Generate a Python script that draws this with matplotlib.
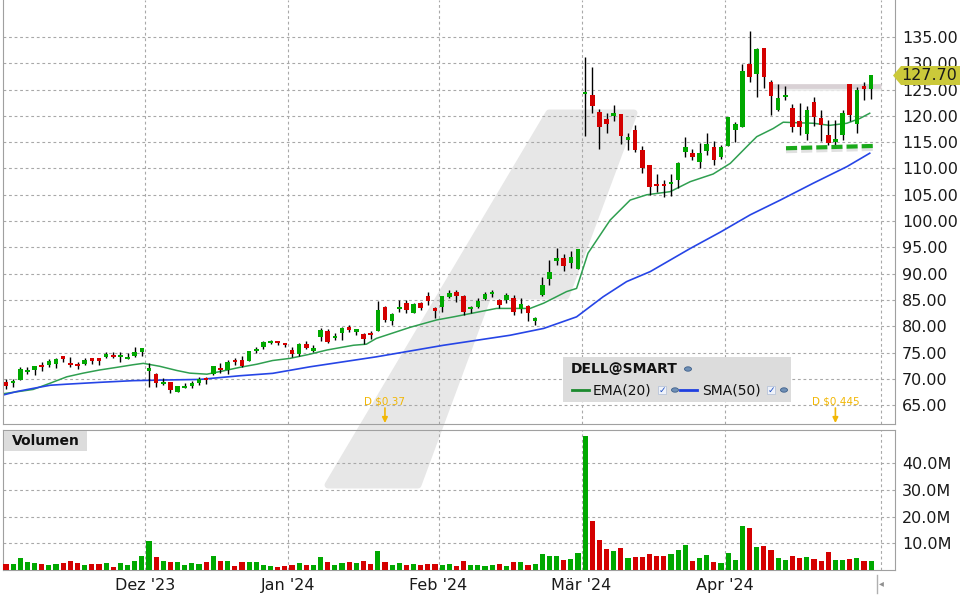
import matplotlib
matplotlib.use("Agg")
import matplotlib.pyplot as plt
from matplotlib.patches import Polygon, Rectangle, Circle
import numpy as np

# ---- daily candles, Nov 2 2023 .. Apr 29 2024 (index = trading day) ----
opens = [69.4, 69.2, 69.8, 71.3, 71.7, 72.7, 72.6, 72.8, 74.4, 73.0,
         72.9, 72.9, 73.8, 73.8, 74.2, 74.5, 74.1, 73.7, 74.4, 75.1,
         71.6, 71.0, 69.0, 69.5, 67.6, 68.3, 68.6, 69.2, 70.0, 70.9,
         72.1, 71.7, 73.6, 73.6, 73.5, 75.3, 76.1, 76.9, 77.1, 76.9,
         75.5, 74.7, 76.6, 75.4, 78.0, 79.1, 77.8, 78.8, 79.9, 79.0,
         78.6, 78.8, 79.2, 83.7, 81.1, 83.35, 84.4, 82.6, 84.5, 85.8,
         83.3, 83.7, 85.6, 86.5, 85.8, 83.35, 83.7, 85.2, 86.2, 85.0,
         85.0, 85.4, 83.2, 83.9, 81.1, 86.0, 89.05, 92.5, 93.0, 92.0,
         90.9, 124.2, 124.0, 120.7, 119.4, 120.05, 120.4, 115.5, 117.3, 113.6,
         110.7, 107.05, 107.05, 107.1, 107.9, 113.2, 113.0, 111.3, 113.3, 114.15,
         112.25, 114.3, 117.4, 117.8, 129.9, 128.0, 132.97, 126.4, 121.1, 123.65,
         121.5, 119.1, 116.6, 122.6, 119.6, 116.4, 115.1, 116.4, 126.1, 118.4,
         125.7, 125.1]
highs = [69.9, 70.0, 72.3, 72.3, 72.5, 73.2, 73.8, 74.0, 74.4, 74.2,
         73.2, 74.0, 74.0, 74.0, 75.2, 75.1, 75.1, 74.9, 76.1, 75.8,
         73.0, 71.2, 70.2, 69.5, 68.6, 69.2, 69.6, 70.4, 70.4, 72.5,
         73.1, 73.6, 74.0, 74.4, 75.4, 76.1, 77.3, 77.4, 77.3, 76.9,
         76.1, 76.8, 77.2, 76.4, 79.7, 79.5, 78.8, 79.9, 80.2, 79.4,
         78.8, 79.2, 84.8, 83.9, 82.6, 85.0, 85.0, 84.5, 84.7, 86.5,
         83.7, 85.8, 86.9, 86.9, 86.0, 83.9, 85.3, 86.6, 86.9, 85.1,
         86.3, 86.0, 85.3, 84.1, 81.8, 89.3, 92.6, 94.95, 93.7, 94.3,
         94.7, 131.1, 129.2, 121.4, 120.5, 122.1, 120.4, 116.8, 118.3, 114.3,
         110.7, 109.0, 107.8, 109.0, 111.2, 115.9, 113.65, 114.8, 116.8, 115.3,
         114.5, 119.85, 118.9, 129.8, 136.1, 132.9, 133.0, 126.8, 126.1, 125.7,
         122.2, 122.5, 121.8, 123.6, 121.1, 119.2, 119.3, 121.1, 126.1, 125.4,
         126.4, 127.8]
lows = [68.1, 68.5, 69.8, 70.9, 70.8, 71.6, 72.3, 72.1, 73.3, 72.3,
        71.8, 72.6, 72.9, 72.7, 74.0, 74.0, 73.2, 73.7, 74.2, 74.4,
        68.4, 68.5, 68.8, 67.4, 67.6, 68.3, 68.3, 68.8, 69.0, 70.7,
        71.1, 70.9, 72.7, 72.2, 73.4, 75.0, 75.7, 76.6, 76.5, 76.1,
        74.2, 74.4, 75.7, 75.2, 77.3, 76.9, 77.4, 77.4, 78.9, 78.4,
        76.6, 77.6, 79.2, 80.9, 80.3, 82.7, 82.6, 82.5, 83.1, 84.1,
        81.5, 82.8, 85.3, 84.6, 82.1, 82.5, 83.5, 85.0, 85.6, 83.4,
        84.5, 82.2, 82.6, 81.1, 80.2, 85.8, 87.85, 91.65, 90.6, 91.1,
        90.9, 116.2, 120.6, 113.8, 116.8, 119.1, 114.7, 113.6, 113.2, 109.2,
        105.0, 105.6, 104.5, 104.8, 106.2, 112.1, 111.7, 110.15, 112.6, 110.7,
        111.75, 114.3, 115.1, 117.8, 126.5, 123.5, 125.3, 120.2, 120.9, 123.0,
        117.0, 116.4, 115.4, 118.1, 115.2, 114.5, 114.0, 115.4, 119.0, 116.7,
        122.96, 123.15]
closes = [68.6, 69.5, 71.9, 71.7, 72.5, 72.3, 73.4, 73.8, 73.8, 72.7,
          72.5, 73.6, 73.5, 73.5, 74.7, 74.2, 74.4, 74.0, 75.1, 75.8,
          71.9, 69.3, 69.3, 67.8, 68.6, 68.6, 69.2, 69.9, 69.7, 72.5,
          71.7, 73.3, 73.2, 72.5, 75.3, 75.7, 77.0, 77.2, 76.8, 76.5,
          74.7, 76.6, 75.9, 75.9, 79.3, 77.1, 78.2, 79.7, 79.3, 79.4,
          77.6, 78.4, 83.1, 81.2, 82.4, 83.7, 83.1, 84.2, 83.5, 84.8,
          83.0, 85.8, 86.3, 85.8, 82.8, 83.7, 84.8, 86.2, 86.5, 84.1,
          85.95, 82.7, 84.2, 82.6, 81.45, 87.9, 90.3, 92.85, 91.5, 93.2,
          94.7, 124.55, 121.8, 117.8, 118.5, 120.6, 116.2, 115.8, 113.6, 110.0,
          106.55, 106.7, 106.7, 107.4, 111.05, 114.1, 112.25, 112.95, 114.65, 111.6,
          114.1, 119.7, 118.5, 128.5, 127.3, 132.7, 127.3, 123.85, 123.4, 123.97,
          117.8, 117.9, 121.1, 119.7, 118.3, 114.9, 115.7, 120.55, 120.2, 125.0,
          125.1, 127.7]
volume_m = [2.25, 2.25, 4.5, 3.0, 2.6, 2.25, 1.9, 2.25, 2.6, 3.4,
            2.6, 1.9, 2.25, 2.25, 2.6, 1.1, 2.6, 1.9, 3.4, 5.25,
            10.9, 4.9, 3.4, 3.0, 3.0, 1.9, 2.6, 2.25, 3.0, 5.25,
            3.4, 3.4, 1.5, 3.0, 3.0, 3.0, 1.9, 1.5, 1.1, 1.5,
            1.9, 2.6, 1.9, 1.9, 4.9, 3.0, 1.9, 2.6, 3.0, 2.6,
            3.4, 2.25, 7.1, 3.0, 1.9, 2.6, 1.9, 2.25, 1.9, 2.25,
            2.25, 1.9, 2.25, 1.5, 3.4, 1.9, 1.9, 1.5, 1.9, 2.25,
            1.5, 3.0, 3.0, 1.9, 2.25, 6.0, 5.25, 5.25, 3.75, 4.1,
            6.4, 50.25, 18.4, 11.25, 7.9, 7.1, 8.25, 4.5, 4.9, 4.9,
            6.0, 5.25, 5.25, 6.0, 7.5, 9.4, 3.4, 4.5, 5.6, 3.0,
            2.6, 6.4, 3.75, 16.5, 15.75, 8.6, 9.0, 7.5, 4.5, 3.75,
            5.25, 4.5, 4.9, 4.1, 3.4, 6.75, 3.75, 3.75, 4.1, 4.5,
            3.4, 3.4]

# indicator lines (x = trading-day index)
ema_x = [-0.8, 3.8, 6.2, 8.5, 10.8, 13.1, 15.5, 17.8, 19.2, 21.5, 23.9, 25.7,
         28.1, 30.3, 32.7, 35.1, 37.3, 39.7, 42.5, 44.9, 48.6, 50.4, 51.8, 56.5,
         60.2, 62.6, 68.6, 73.3, 75.2, 78.4, 79.8, 81.4, 84.5, 87.3, 89.6, 92.9,
         95.7, 98.9, 101.3, 103.6, 105.0, 107.3, 108.7, 110.6, 112.9, 115.2,
         117.6, 119.4, 120.8]
ema_y = [67.1, 68.0, 69.2, 70.4, 71.1, 71.7, 72.2, 72.7, 72.96, 72.4, 71.6, 71.1,
         70.9, 71.5, 72.2, 72.8, 73.5, 73.9, 74.7, 75.5, 76.4, 76.6, 77.7, 79.8,
         81.2, 81.8, 83.4, 83.4, 84.4, 86.6, 87.2, 93.9, 100.2, 104.0, 105.0, 105.6,
         107.5, 108.95, 110.98, 114.15, 116.05, 117.6, 118.8, 118.7, 118.6, 118.2,
         118.6, 119.5, 120.5]
sma_x = [-0.8, 1.5, 3.8, 6.2, 8.5, 13.1, 17.8, 22.5, 27.1, 32.7, 37.3, 42.5,
         51.8, 61.2, 70.5, 75.2, 79.8, 83.5, 86.8, 90.1, 95.7, 99.9, 104.1,
         108.3, 112.9, 117.6, 120.8]
sma_y = [66.8, 67.6, 68.2, 68.8, 69.0, 69.35, 69.67, 69.8, 69.9, 70.6, 71.06, 72.3,
         74.2, 76.4, 78.3, 79.6, 81.8, 85.6, 88.5, 90.4, 94.8, 97.9, 101.2,
         104.0, 107.2, 110.35, 112.9]

month_pos = [19.5, 39.5, 60.5, 80.5, 100.5]
month_labels = ["Dez '23", "Jan '24", "Feb '24", "Mär '24", "Apr '24"]
price_ticks = list(range(65, 140, 5))
vol_ticks = [10, 20, 30, 40]
last_price = 127.70
dividends = [(53, "D $0.37"), (116, "D $0.445")]

GREEN = "#00a800"
RED = "#d40000"
GRID = "#a8a8a8"
SPINE = "#a0a0a0"

W, H = 960, 600
def fx(px):
    return px / W
def fy(py):
    return 1 - py / H

plt.rcParams['font.family'] = ['DejaVu Sans']
plt.rcParams['lines.scale_dashes'] = False

fig = plt.figure(figsize=(9.6, 6), dpi=100)
fig.patch.set_facecolor("white")

# grey watermark behind both panels
wm_px = [(549, 113), (634, 113), (566, 296), (488, 296), (418, 485), (328, 485)]
wm = Polygon([(fx(x), fy(y)) for x, y in wm_px], closed=True, transform=fig.transFigure,
             facecolor="#e7e7e7", edgecolor="#e7e7e7", lw=5, joinstyle="round", zorder=-5)
fig.patches.append(wm)

x_left, x_right = (3 - 6) / 7.15, (895 - 6) / 7.15
now_x = (881 - 6) / 7.15

# ---------------- price panel ----------------
ax = fig.add_axes([fx(3), fy(424), fx(895) - fx(3), fy(0) - fy(424)])
ax.set_facecolor("none")
idx = np.arange(len(closes))
o = np.array(opens); c = np.array(closes)
up = c >= o
cols = np.where(up, GREEN, RED)

ax.vlines(idx, lows, highs, colors="black", lw=1.0, zorder=3)
ax.bar(idx, np.maximum(np.abs(c - o), 0.4), bottom=np.minimum(o, c), width=0.64,
       color=cols, linewidth=0, zorder=4)

ax.plot(ema_x, ema_y, color="#2f9f50", lw=1.1, zorder=2)
ax.plot(sma_x, sma_y, color="#2645e6", lw=1.2, zorder=2)

# resistance band and support dashes
ax.plot([(770 - 6) / 7.15, now_x], [125.7, 125.7], color="#d9d1d5", lw=3.4,
        solid_capstyle="butt", zorder=2)
ax.plot([(770 - 6) / 7.15, now_x], [125.1, 125.1], color="#ececec", lw=2.0,
        solid_capstyle="butt", zorder=1)
ax.plot([(786 - 6) / 7.15, (876 - 6) / 7.15], [113.3, 113.75], color="#e0e0e0", lw=3,
        dashes=(8, 2.9), solid_capstyle="butt", zorder=1)
ax.plot([(786 - 6) / 7.15, (876 - 6) / 7.15], [113.85, 114.3], color="#1aaa1a", lw=3,
        dashes=(8, 2.9), dash_capstyle="butt", zorder=5)

ax.set_xlim(x_left, x_right)
ax.set_ylim(61.43, 142.03)
ax.set_yticks(price_ticks)
ax.set_yticklabels([f"{v:.2f}" for v in price_ticks])
ax.yaxis.tick_right()
ax.tick_params(axis="y", length=0, pad=5, labelsize=11.5, labelcolor="#1a1a1a")
ax.set_xticks(month_pos + [now_x])
ax.tick_params(axis="x", length=0, labelbottom=False)
ax.grid(True, color=GRID, lw=0.8, linestyle=(0, (2, 2)))
ax.set_axisbelow(True)
ax.spines["top"].set_visible(False)
for s in ["left", "right", "bottom"]:
    ax.spines[s].set_color(SPINE)

# ---------------- volume panel ----------------
axv = fig.add_axes([fx(3), fy(570), fx(895) - fx(3), fy(429.5) - fy(570)])
axv.set_facecolor("none")
axv.bar(idx, volume_m, width=0.72, color=cols, linewidth=0, zorder=3)
axv.set_xlim(x_left, x_right)
axv.set_ylim(0, (570 - 429.5) / 2.67)
axv.set_yticks(vol_ticks)
axv.set_yticklabels([f"{v:.1f}M" for v in vol_ticks])
axv.yaxis.tick_right()
axv.tick_params(axis="y", length=0, pad=5, labelsize=11.5, labelcolor="#1a1a1a")
axv.set_xticks(month_pos + [now_x])
axv.set_xticklabels(month_labels + [""])
axv.tick_params(axis="x", length=0, pad=6, labelsize=11.5, labelcolor="#1a1a1a")
axv.grid(True, color=GRID, lw=0.8, linestyle=(0, (2, 2)))
axv.set_axisbelow(True)
for s in axv.spines.values():
    s.set_color(SPINE)

fig.patches.append(Rectangle((fx(4), fy(451)), fx(87) - fx(4), fy(431) - fy(451),
                             transform=fig.transFigure, facecolor="#dcdcdc", edgecolor="none"))
fig.text(fx(12), fy(441), "Volumen", fontsize=10, fontweight="bold", va="center", color="#111")

# ---------------- legend box ----------------
fig.patches.append(Rectangle((fx(563), fy(402)), fx(791) - fx(563), fy(357) - fy(402),
                             transform=fig.transFigure, facecolor="#dcdcdc", edgecolor="none"))
fig.text(fx(571), fy(369), "DELL@SMART", fontsize=10, fontweight="bold", va="center", color="#111")
fig.lines.append(plt.Line2D([fx(572), fx(589)], [fy(390), fy(390)], transform=fig.transFigure,
                            color="#1b8a2e", lw=2))
fig.text(fx(593), fy(390), "EMA(20)", fontsize=10, va="center", color="#111")
fig.lines.append(plt.Line2D([fx(680), fx(697)], [fy(390), fy(390)], transform=fig.transFigure,
                            color="#1f3fe0", lw=2))
fig.text(fx(702), fy(390), "SMA(50)", fontsize=10, va="center", color="#111")
for gx, gy in [(688, 369), (675, 390), (784, 390)]:
    fig.patches.append(Circle((fx(gx), fy(gy)), 3.5 / W, transform=fig.transFigure,
                              facecolor="#6f8fb5", edgecolor="#3d5f8a", lw=0.6))
for cx in [662, 771]:
    fig.patches.append(Rectangle((fx(cx - 4), fy(394)), 8 / W, 8 / H, transform=fig.transFigure,
                                 facecolor="#eef2fa", edgecolor="#b8c4d8", lw=0.6))
    fig.text(fx(cx), fy(390), "\u2713", fontsize=6.5, color="#2050c0", ha="center", va="center",
             fontweight="bold")

# ---------------- dividend markers ----------------
for di, label in dividends:
    px = 6 + 7.15 * di
    fig.text(fx(px), fy(401.5), label, fontsize=7.5, color="#f2b705", ha="center", va="center")
    ax.annotate("", xy=(fx(px), fy(423)), xytext=(fx(px), fy(408)), xycoords="figure fraction",
                arrowprops=dict(arrowstyle="-|>", color="#f2b705", lw=1.2,
                                mutation_scale=8, shrinkA=0, shrinkB=0))

# ---------------- last price tag ----------------
tag = [(893, 75.5), (901, 66), (960, 66), (960, 85), (901, 85)]
fig.patches.append(Polygon([(fx(x), fy(y)) for x, y in tag], closed=True,
                           transform=fig.transFigure, facecolor="#cbc93a", edgecolor="none"))
fig.text(fx(901), fy(75.5), f"{last_price:.2f}", fontsize=11.5, va="center", color="#1a1a1a")

# small scroll marker bottom right
fig.lines.append(plt.Line2D([fx(877), fx(877)], [fy(575), fy(593)], transform=fig.transFigure,
                            color="#b0b0b0", lw=1))
fig.text(fx(881), fy(583), "\u25c2", fontsize=7, color="#909090", va="center", ha="center")

fig.savefig("out.png", dpi=100)
